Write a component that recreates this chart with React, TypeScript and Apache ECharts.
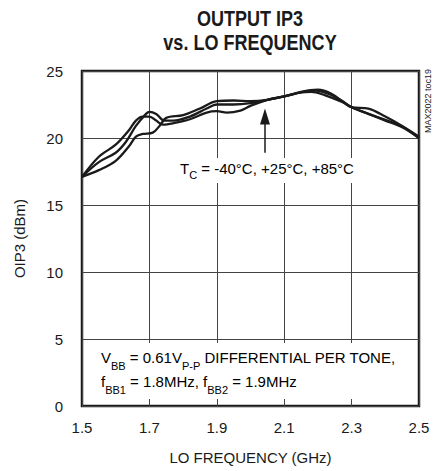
import React, { useEffect, useRef } from "react";
import * as echarts from "echarts";

// LO frequency (GHz) and output IP3 (dBm) for three case temperatures
const freqA = [1.5, 1.55, 1.6, 1.64, 1.66, 1.68, 1.7, 1.72, 1.74, 1.77, 1.82, 1.87, 1.9, 1.93, 1.97, 2.0, 2.05, 2.1, 2.15, 2.18, 2.22, 2.27, 2.3, 2.35, 2.4, 2.45, 2.5];
const oip3A = [17.1, 18.6, 19.5, 20.6, 21.3, 21.6, 21.6, 21.3, 21.0, 21.1, 21.4, 21.9, 22.0, 21.9, 22.05, 22.4, 22.85, 23.1, 23.4, 23.45, 23.2, 22.7, 22.3, 21.8, 21.35, 20.85, 20.0];

const freqB = [1.5, 1.55, 1.6, 1.63, 1.66, 1.69, 1.7, 1.72, 1.745, 1.77, 1.82, 1.87, 1.9, 1.95, 2.0, 2.05, 2.1, 2.15, 2.19, 2.23, 2.27, 2.3, 2.35, 2.4, 2.45, 2.5];
const oip3B = [17.1, 18.2, 18.9, 19.7, 20.9, 21.8, 21.95, 21.8, 21.3, 21.3, 21.6, 22.2, 22.5, 22.5, 22.6, 22.85, 23.1, 23.4, 23.55, 23.3, 22.8, 22.3, 21.8, 21.3, 20.8, 20.0];

const freqC = [1.5, 1.55, 1.6, 1.64, 1.66, 1.68, 1.71, 1.73, 1.75, 1.8, 1.85, 1.9, 1.95, 2.0, 2.05, 2.1, 2.15, 2.2, 2.24, 2.28, 2.3, 2.35, 2.4, 2.45, 2.5];
const oip3C = [17.1, 17.6, 18.3, 19.4, 20.1, 20.3, 20.4, 20.9, 21.5, 21.7, 22.2, 22.75, 22.8, 22.75, 22.85, 23.1, 23.45, 23.6, 23.3, 22.6, 22.3, 22.2, 21.6, 20.9, 20.1];

const arrowFreq = 2.043;
const arrowFrom = 18.9;
const arrowTo = 21.6;

const xTicks = { min: 1.5, max: 2.5, step: 0.2 };
const yTicks = { min: 0, max: 25, step: 5 };

const titleLines = ["OUTPUT IP3", "vs. LO FREQUENCY"];

const FONT = "'Liberation Sans', Arial, Helvetica, sans-serif";
const INK = "#1a1a1a";

const pairs = (xs: number[], ys: number[]) => xs.map((x, i) => [x, ys[i]]);

export default function App() {
  const ref = useRef<HTMLDivElement>(null);

  useEffect(() => {
    if (!ref.current) return;
    const chart = echarts.init(ref.current, undefined, { renderer: "svg" });

    const lineSeries = (name: string, xs: number[], ys: number[], extra: any = {}) => ({
      name,
      type: "line",
      data: pairs(xs, ys),
      smooth: 0.35,
      showSymbol: false,
      lineStyle: { color: INK, width: 2.3 },
      z: 3,
      ...extra,
    });

    const titleStyle = (text: string) => ({
      text,
      fontFamily: FONT,
      fontWeight: "bold",
      fontSize: 22,
      fill: INK,
      align: "center",
      verticalAlign: "top",
    });

    chart.setOption({
      animation: false,
      backgroundColor: "#ffffff",
      grid: {
        left: 82,
        top: 71,
        width: 337,
        height: 335,
        show: true,
        borderColor: INK,
        borderWidth: 2.5,
        backgroundColor: "transparent",
      },
      xAxis: {
        type: "value",
        min: xTicks.min,
        max: xTicks.max,
        interval: xTicks.step,
        name: "LO FREQUENCY (GHz)",
        nameLocation: "middle",
        nameGap: 44,
        nameTextStyle: { fontFamily: FONT, fontSize: 15, color: INK },
        axisLine: { show: false },
        axisTick: { show: false },
        axisLabel: {
          fontFamily: FONT,
          fontSize: 15,
          color: INK,
          margin: 14,
          formatter: (v: number) => v.toFixed(1),
        },
        splitLine: { show: true, lineStyle: { color: "#444", width: 1 } },
      },
      yAxis: {
        type: "value",
        min: yTicks.min,
        max: yTicks.max,
        interval: yTicks.step,
        name: "OIP3 (dBm)",
        nameLocation: "middle",
        nameGap: 55,
        nameRotate: 90,
        nameTextStyle: { fontFamily: FONT, fontSize: 15, color: INK },
        axisLine: { show: false },
        axisTick: { show: false },
        axisLabel: { fontFamily: FONT, fontSize: 15, color: INK, margin: 19 },
        splitLine: { show: true, lineStyle: { color: "#444", width: 1 } },
      },
      graphic: [
        {
          type: "group",
          x: 250,
          y: 0,
          scaleX: 0.82,
          children: [
            { type: "text", x: 0, y: 7, style: titleStyle(titleLines[0]) },
            { type: "text", x: 0, y: 31.5, style: titleStyle(titleLines[1]) },
          ],
        },
        {
          type: "text",
          left: 176,
          top: 158,
          z: 10,
          style: {
            text: "{m|T}{s|C}{m| = -40°C, +25°C, +85°C}",
            backgroundColor: "#ffffff",
            padding: [3, 4, 4, 4],
            rich: {
              m: { fontFamily: FONT, fontSize: 15, lineHeight: 18, color: INK, verticalAlign: "top" },
              s: { fontFamily: FONT, fontSize: 11, lineHeight: 11, padding: [8, 0, 0, 0], color: INK, verticalAlign: "top" },
            },
          },
        },
        {
          type: "text",
          left: 96,
          top: 343,
          z: 10,
          style: {
            text:
              "{m|V}{s|BB}{m| = 0.61V}{s|P-P}{m| DIFFERENTIAL PER TONE,}\n{m|f}{s|BB1}{m| = 1.8MHz, f}{s|BB2}{m| = 1.9MHz}",
            backgroundColor: "#ffffff",
            padding: [4, 5, 4, 5],
            rich: {
              m: { fontFamily: FONT, fontSize: 15, lineHeight: 24, color: INK, verticalAlign: "top", padding: [3, 0, 0, 0] },
              s: { fontFamily: FONT, fontSize: 11, lineHeight: 11, padding: [13, 0, 0, 0], color: INK, verticalAlign: "top" },
            },
          },
        },
        {
          type: "text",
          x: 428,
          y: 101,
          rotation: Math.PI / 2,
          z: 10,
          style: {
            text: "MAX2022 toc19",
            fontFamily: FONT,
            fontSize: 9,
            fill: INK,
            align: "center",
            verticalAlign: "middle",
          },
        },
      ],
      series: [
        lineSeries("TC = -40°C", freqA, oip3A, {
          markLine: {
            silent: true,
            symbol: ["none", "triangle"],
            symbolSize: [10, 16],
            label: { show: false },
            lineStyle: { color: INK, width: 1.5, type: "solid" },
            data: [[{ coord: [arrowFreq, arrowFrom] }, { coord: [arrowFreq, arrowTo] }]],
          },
        }),
        lineSeries("TC = +25°C", freqB, oip3B),
        lineSeries("TC = +85°C", freqC, oip3C),
      ],
    });

    return () => chart.dispose();
  }, []);

  return (
    <div
      ref={ref}
      style={{ position: "fixed", left: 0, top: 0, width: 434, height: 471, background: "#fff" }}
    />
  );
}
